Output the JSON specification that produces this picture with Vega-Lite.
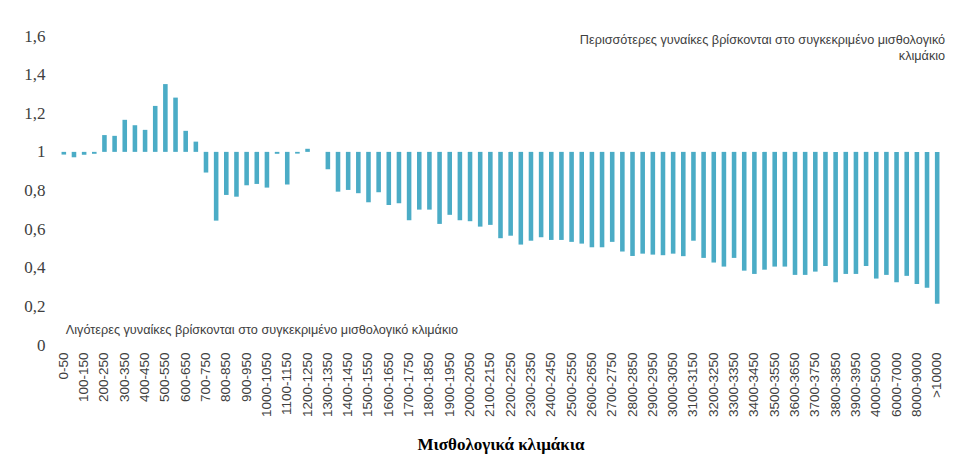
{
  "$schema": "https://vega.github.io/schema/vega-lite/v6.json",
  "width": 883,
  "height": 309,
  "autosize": {"type": "none"},
  "padding": {"left": 59, "top": 36, "right": 14, "bottom": 119},
  "background": "white",
  "config": {
    "view": {"stroke": null},
    "locale": {"number": {"decimal": ",", "thousands": ".", "grouping": [3], "currency": ["", " €"]}},
    "axisY": {"labelOverlap": false, "labelSeparation": -30}
  },
  "datasets": {
    "bars": [
      {"k": "0-50", "v": 0.986}, {"k": "50-100", "v": 0.972}, {"k": "100-150", "v": 0.985}, {"k": "150-200", "v": 0.99},
      {"k": "200-250", "v": 1.087}, {"k": "250-300", "v": 1.083}, {"k": "300-350", "v": 1.166}, {"k": "350-400", "v": 1.138},
      {"k": "400-450", "v": 1.114}, {"k": "450-500", "v": 1.238}, {"k": "500-550", "v": 1.351}, {"k": "550-600", "v": 1.281},
      {"k": "600-650", "v": 1.109}, {"k": "650-700", "v": 1.053}, {"k": "700-750", "v": 0.893}, {"k": "750-800", "v": 0.644},
      {"k": "800-850", "v": 0.777}, {"k": "850-900", "v": 0.768}, {"k": "900-950", "v": 0.827}, {"k": "950-1000", "v": 0.834},
      {"k": "1000-1050", "v": 0.815}, {"k": "1050-1100", "v": 0.99}, {"k": "1100-1150", "v": 0.831}, {"k": "1150-1200", "v": 0.991},
      {"k": "1200-1250", "v": 1.016}, {"k": "1250-1300", "v": 1.0}, {"k": "1300-1350", "v": 0.91}, {"k": "1350-1400", "v": 0.794},
      {"k": "1400-1450", "v": 0.803}, {"k": "1450-1500", "v": 0.786}, {"k": "1500-1550", "v": 0.739}, {"k": "1550-1600", "v": 0.791},
      {"k": "1600-1650", "v": 0.725}, {"k": "1650-1700", "v": 0.734}, {"k": "1700-1750", "v": 0.646}, {"k": "1750-1800", "v": 0.701},
      {"k": "1800-1850", "v": 0.701}, {"k": "1850-1900", "v": 0.627}, {"k": "1900-1950", "v": 0.674}, {"k": "1950-2000", "v": 0.646},
      {"k": "2000-2050", "v": 0.641}, {"k": "2050-2100", "v": 0.613}, {"k": "2100-2150", "v": 0.622}, {"k": "2150-2200", "v": 0.553},
      {"k": "2200-2250", "v": 0.566}, {"k": "2250-2300", "v": 0.52}, {"k": "2300-2350", "v": 0.54}, {"k": "2350-2400", "v": 0.558},
      {"k": "2400-2450", "v": 0.544}, {"k": "2450-2500", "v": 0.544}, {"k": "2500-2550", "v": 0.534}, {"k": "2550-2600", "v": 0.525},
      {"k": "2600-2650", "v": 0.506}, {"k": "2650-2700", "v": 0.506}, {"k": "2700-2750", "v": 0.534}, {"k": "2750-2800", "v": 0.484},
      {"k": "2800-2850", "v": 0.461}, {"k": "2850-2900", "v": 0.473}, {"k": "2900-2950", "v": 0.468}, {"k": "2950-3000", "v": 0.465},
      {"k": "3000-3050", "v": 0.473}, {"k": "3050-3100", "v": 0.46}, {"k": "3100-3150", "v": 0.54}, {"k": "3150-3200", "v": 0.451},
      {"k": "3200-3250", "v": 0.427}, {"k": "3250-3300", "v": 0.406}, {"k": "3300-3350", "v": 0.451}, {"k": "3350-3400", "v": 0.385},
      {"k": "3400-3450", "v": 0.368}, {"k": "3450-3500", "v": 0.39}, {"k": "3500-3550", "v": 0.406}, {"k": "3550-3600", "v": 0.406},
      {"k": "3600-3650", "v": 0.363}, {"k": "3650-3700", "v": 0.363}, {"k": "3700-3750", "v": 0.38}, {"k": "3750-3800", "v": 0.409},
      {"k": "3800-3850", "v": 0.325}, {"k": "3850-3900", "v": 0.368}, {"k": "3900-3950", "v": 0.368}, {"k": "3950-4000", "v": 0.409},
      {"k": "4000-5000", "v": 0.344}, {"k": "5000-6000", "v": 0.363}, {"k": "6000-7000", "v": 0.325}, {"k": "7000-8000", "v": 0.358},
      {"k": "8000-9000", "v": 0.316}, {"k": "9000-10000", "v": 0.297}, {"k": ">10000", "v": 0.214}
    ],
    "notes": [
      {"k": ">10000", "v": 1.58, "t": "Περισσότερες γυναίκες βρίσκονται στο συγκεκριμένο μισθολογικό\nκλιμάκιο", "side": "right"},
      {"k": "0-50", "v": 0.078, "t": "Λιγότερες γυναίκες βρίσκονται στο συγκεκριμένο μισθολογικό κλιμάκιο", "side": "left"}
    ]
  },
  "layer": [
    {
      "data": {"name": "bars"},
      "mark": {"type": "bar", "color": "#4BACC6"},
      "encoding": {
        "x": {
          "field": "k", "type": "nominal", "sort": null,
          "scale": {"paddingInner": 0.55, "paddingOuter": 0.25},
          "axis": {
            "title": "Μισθολογικά κλιμάκια",
            "titleFont": "Liberation Serif", "titleFontSize": 17, "titleFontWeight": "bold", "titleColor": "#000000",
            "titlePadding": 20,
            "labelAngle": -90, "labelFont": "Liberation Sans", "labelFontSize": 13.5, "labelColor": "#404040",
            "labelPadding": 7, "labelOverlap": false, "domain": false, "ticks": false,
            "values": ["0-50","100-150","200-250","300-350","400-450","500-550","600-650","700-750","800-850","900-950","1000-1050","1100-1150","1200-1250","1300-1350","1400-1450","1500-1550","1600-1650","1700-1750","1800-1850","1900-1950","2000-2050","2100-2150","2200-2250","2300-2350","2400-2450","2500-2550","2600-2650","2700-2750","2800-2850","2900-2950","3000-3050","3100-3150","3200-3250","3300-3350","3400-3450","3500-3550","3600-3650","3700-3750","3800-3850","3900-3950","4000-5000","6000-7000","8000-9000",">10000"]
          }
        },
        "y": {
          "field": "v", "type": "quantitative",
          "scale": {"domain": [0, 1.6], "nice": false, "zero": false},
          "axis": {
            "title": null, "grid": false, "domain": false, "ticks": false,
            "tickCount": 8,
            "labelOverlap": false, "labelSeparation": -30, "format": ".1~f",
            "labelFont": "Liberation Serif", "labelFontSize": 17, "labelColor": "#404040", "labelPadding": 14
          }
        },
        "y2": {"datum": 1}
      }
    },
    {
      "mark": {"type": "rule", "color": "#D9D9D9", "strokeWidth": 1.5},
      "encoding": {"y": {"datum": 1, "type": "quantitative"}}
    },
    {
      "data": {"name": "notes"},
      "transform": [{"filter": "datum.side == 'right'"}],
      "mark": {"type": "text", "align": "right", "baseline": "middle", "lineBreak": "\n", "lineHeight": 16, "dx": 8, "font": "Liberation Sans", "fontSize": 12.7, "color": "#404040"},
      "encoding": {
        "x": {"field": "k", "type": "nominal", "sort": null},
        "y": {"field": "v", "type": "quantitative"},
        "text": {"field": "t"}
      }
    },
    {
      "data": {"name": "notes"},
      "transform": [{"filter": "datum.side == 'left'"}],
      "mark": {"type": "text", "align": "left", "baseline": "middle", "dx": 2, "font": "Liberation Sans", "fontSize": 12.7, "color": "#404040"},
      "encoding": {
        "x": {"field": "k", "type": "nominal", "sort": null},
        "y": {"field": "v", "type": "quantitative"},
        "text": {"field": "t"}
      }
    }
  ]
}
